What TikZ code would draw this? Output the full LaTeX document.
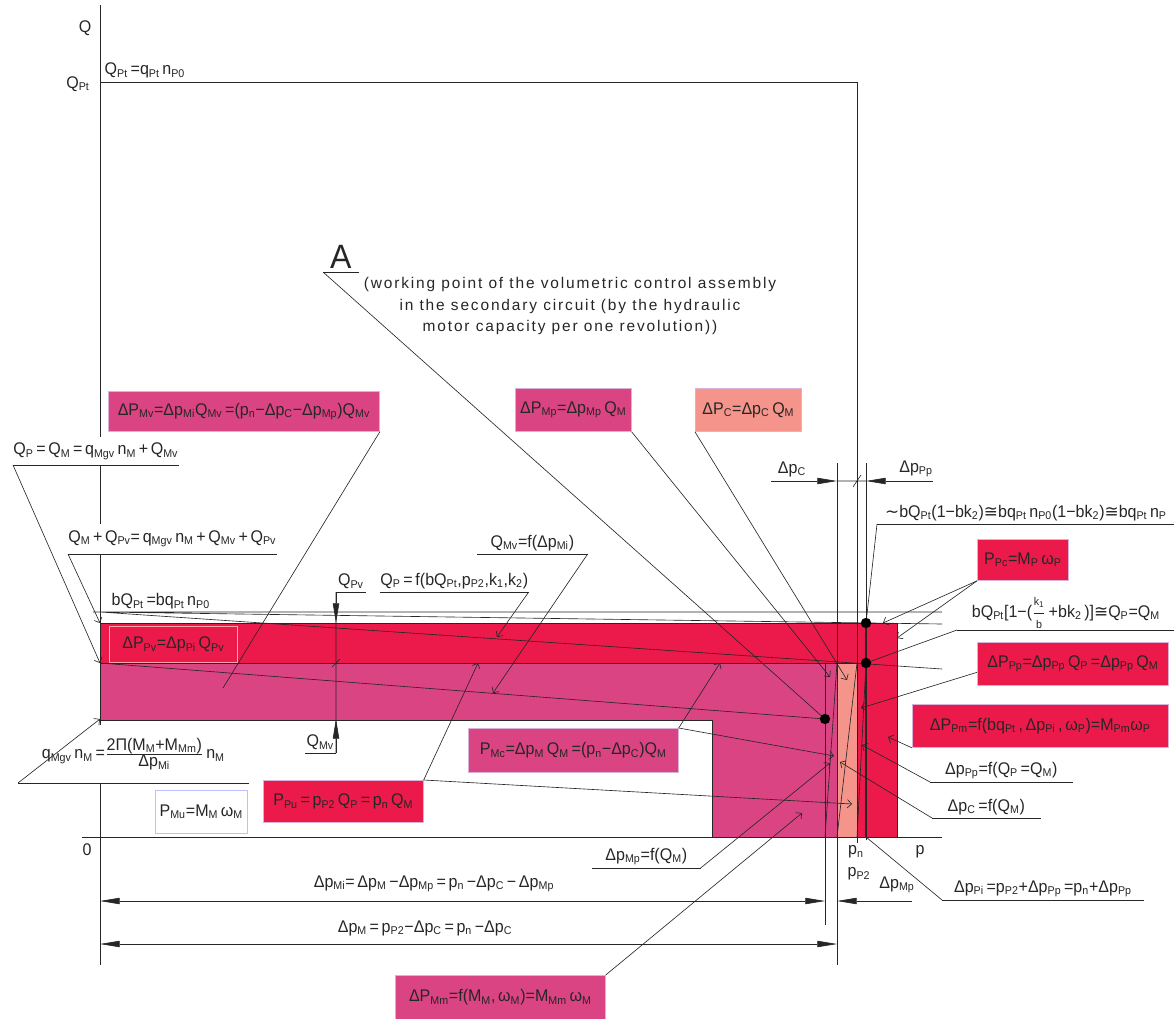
\documentclass[tikz,border=0pt]{standalone}
\usepackage{fontspec}
\setmainfont{Liberation Sans}[FakeStretch=0.95,WordSpace=0.6]
\newfontfamily\symf{DejaVu Sans}
\newfontfamily\notef{Liberation Sans}[LetterSpace=12]
\usetikzlibrary{arrows.meta}
\definecolor{redP}{RGB}{236,26,74}
\definecolor{pinkM}{RGB}{218,68,130}
\definecolor{salmonC}{RGB}{244,148,138}
\newcommand{\ix}[1]{\textsubscript{#1}}
\newcommand{\apx}{{\symf ≅}}
\newcommand{\tld}{{\symf ∼}}
\tikzset{>={Triangle[length=14pt,width=4.5pt]},
box/.style={draw=violet!30,inner sep=0pt,anchor=north west},
ulab/.style={anchor=south west,inner xsep=0pt,inner ysep=2pt},
tick/.style={-{Straight Barb[length=3pt,width=6pt]}},
dot/.style={circle,fill=black,inner sep=0pt,minimum size=0.26cm}}

\begin{document}
\begin{tikzpicture}[x=0.025cm,y=-0.025cm,color=black!85,line width=0.45pt,
  font=\fontsize{12}{14}\selectfont]
\useasboundingbox (0,0) rectangle (1174,1018);
% working points
\coordinate (A) at (825,719);
\coordinate (d1) at (866,623);
\coordinate (d2) at (866,663);
\coordinate (pPi) at (866,837);
% power areas
\fill[redP] (100,623) -- (897,623) -- (897,837) -- (857,837) -- (857,663) -- (100,663) -- cycle;
\fill[pinkM] (100,663) -- (837,663) -- (837,837) -- (712,837) -- (712,720) -- (100,720) -- cycle;
\fill[salmonC] (837,663) rectangle (857,837);
\draw (100,623) -- (897,623) -- (897,837) (100,663) -- (866,663)
  (100,720) -- (712,720) -- (712,837);
% axes
\draw (100,5) -- (100,965) (82,837) -- (942,837);
\draw (100,82) -- (857,82) -- (857,843);
\node (Qax) at (85,28) {Q};
\node (QPt) at (78,84) {Q\ix{Pt}};
\node (zero) at (87,850) {0};
\node (pax) at (920,852) {p};
\node (pn) at (856,852) {p\ix{n}};
\node (pP2) at (859,874) {p\ix{P2}};
\node[anchor=south west,inner sep=1pt] (QPtq) at (103,80) {Q\ix{Pt} =q\ix{Pt} n\ix{P0}};
\node[anchor=south west,inner sep=1pt] (bQPt) at (110,611) {bQ\ix{Pt} =bq\ix{Pt} n\ix{P0}};
% characteristics
\draw (93,612) -- (942,612) (100,612) -- (942,624) (100,612) -- (942,669) (100,663) -- (A);
\draw (837,463) -- (837,965) (825,663) -- (825,925) (866,463) -- (866,840);
\draw[line width=1.6pt] (d1) -- (d2);
\draw[line width=0.9pt] (d2) -- (pPi);
\draw (837,663) -- (825,837) (857,663) -- (837,837) (866,663) -- (857,837);
% dimensions
\draw[<->] (100,901) -- (825,901);
\draw[<->] (100,944) -- (837,944);
\draw[->] (912,901) -- (837,901);
\draw[->] (771,481) -- (837,481);
\draw[->] (933,481) -- (866,481);
\draw (837,481) -- (866,481) (853,487) -- (861,475);
\draw (336,592) -- (336,753) (332,667) -- (340,659);
\draw[->] (336,592) -- (336,623);
\draw[->] (336,753) -- (336,719);
\node (lDpC) at (792,469) {Δp\ix{C}};
\node (lDpPp) at (916,469) {Δp\ix{Pp}};
\node (lDpMp) at (897,885) {Δp\ix{Mp}};
\node (lDpMi) at (434,884) {Δp\ix{Mi}= Δp\ix{M} −Δp\ix{Mp} = p\ix{n} −Δp\ix{C} − Δp\ix{Mp}};
\node (lDpM) at (425,928) {Δp\ix{M} = p\ix{P2}−Δp\ix{C} = p\ix{n} −Δp\ix{C}};
% labels on lines
\node[ulab,fill=white,minimum width=3.93cm,minimum height=0.68cm] (lQP) at (13,465)
  {Q\ix{P} = Q\ix{M} = q\ix{Mgv} n\ix{M} + Q\ix{Mv}};
\node[ulab,fill=white,minimum width=4.98cm,minimum height=0.75cm] (lQMPv) at (68,554)
  {Q\ix{M} + Q\ix{Pv}= q\ix{Mgv} n\ix{M} + Q\ix{Mv} + Q\ix{Pv}};
\node[ulab,fill=white,minimum width=5.75cm,minimum height=1.43cm] (lqMgv) at (18,783)
  {q\ix{Mgv} n\ix{M} =$\frac{\hbox{2Π(M\ix{M}+M\ix{Mm})}}{\hbox{Δp\ix{Mi}}}$ n\ix{M}};
\node[ulab,minimum width=0.73cm] (lQPv) at (336,592) {Q\ix{Pv}};
\node[ulab,minimum width=0.75cm] (lQMv) at (305,753) {Q\ix{Mv}};
\node[ulab,minimum width=3.7cm] (lQPf) at (380,592) {Q\ix{P} = f(bQ\ix{Pt},p\ix{P2},k\ix{1},k\ix{2})};
\node[ulab,minimum width=2.75cm] (lQMvf) at (477,554) {Q\ix{Mv}=f(Δp\ix{Mi})};
\node[ulab,minimum width=2.7cm] (lDpMpf) at (592,868) {Δp\ix{Mp}=f(Q\ix{M})};
\node[ulab,minimum width=3.55cm] (lDpPpf) at (930,782) {Δp\ix{Pp}=f(Q\ix{P} =Q\ix{M})};
\node[ulab,minimum width=2.7cm] (lDpCf) at (932,818) {Δp\ix{C} =f(Q\ix{M})};
\node[ulab,minimum width=5.03cm] (lDpPi) at (942,900) {Δp\ix{Pi} =p\ix{P2}+Δp\ix{Pp} =p\ix{n}+Δp\ix{Pp}};
\node[ulab,minimum width=7.43cm] (l1bk) at (877,524)
  {\tld bQ\ix{Pt}(1−bk\ix{2})\apx bq\ix{Pt} n\ix{P0}(1−bk\ix{2})\apx bq\ix{Pt} n\ix{P}};
\node[ulab,inner ysep=0.5pt,minimum width=5.43cm] (lk1b) at (957,630)
  {bQ\ix{Pt}[1−($\displaystyle\frac{\hbox{\footnotesize k\ix{1}}}{\hbox{\footnotesize b}}$ +bk\ix{2} )]\apx Q\ix{P}=Q\ix{M}};
\node[ulab,minimum width=0.88cm,font=\fontsize{24}{26}\selectfont] (lA) at (323,272) {A};
\node[align=center,font=\notef\fontsize{11}{15.5}\selectfont] (note) at (570,306)
  {(working point of the volumetric control assembly\\
   in the secondary circuit (by the hydraulic\\
   motor capacity per one revolution))};
\draw (lQP.south west) -- (lQP.south east) (lQMPv.south west) -- (lQMPv.south east)
  (lqMgv.south west) -- (lqMgv.south east) (lQPv.south west) -- (lQPv.south east)
  (lQMv.south west) -- (lQMv.south east) (lQPf.south west) -- (lQPf.south east)
  (lQMvf.south west) -- (lQMvf.south east) (lDpMpf.south west) -- (lDpMpf.south east)
  (lDpPpf.south west) -- (lDpPpf.south east) (lDpCf.south west) -- (lDpCf.south east)
  (lDpPi.south west) -- (lDpPi.south east) (l1bk.south west) -- (l1bk.south east)
  (lk1b.south west) -- (lk1b.south east) (lA.south west) -- (lA.south east);
% power boxes
\node[box,fill=pinkM,minimum width=6.78cm,minimum height=1.0cm] (bMv) at (108,391)
  {ΔP\ix{Mv}=Δp\ix{Mi}Q\ix{Mv} =(p\ix{n}−Δp\ix{C}−Δp\ix{Mp})Q\ix{Mv}};
\node[box,fill=pinkM,minimum width=2.9cm,minimum height=1.08cm] (bMp) at (515,388) {ΔP\ix{Mp}=Δp\ix{Mp} Q\ix{M}};
\node[box,fill=salmonC,minimum width=2.65cm,minimum height=1.08cm] (bC) at (695,388) {ΔP\ix{C}=Δp\ix{C} Q\ix{M}};
\node[box,fill=redP,minimum width=2.28cm,minimum height=1.03cm] (bPc) at (977,539) {P\ix{Pc}=M\ix{P} ω\ix{P}};
\node[box,fill=redP,minimum width=4.78cm,minimum height=1.08cm] (bPp) at (977,642)
  {ΔP\ix{Pp}=Δp\ix{Pp} Q\ix{P} =Δp\ix{Pp} Q\ix{M}};
\node[box,fill=redP,minimum width=6.4cm,minimum height=1.08cm] (bPm) at (912,704)
  {ΔP\ix{Pm}=f(bq\ix{Pt} , Δp\ix{Pi} , ω\ix{P})=M\ix{Pm}ω\ix{P}};
\node[box,fill=pinkM,minimum width=5.25cm,minimum height=1.1cm] (bMc) at (468,728)
  {P\ix{Mc}=Δp\ix{M} Q\ix{M} =(p\ix{n}−Δp\ix{C})Q\ix{M}};
\node[box,fill=redP,minimum width=4.0cm,minimum height=1.05cm] (bPu) at (263,780)
  {P\ix{Pu} = p\ix{P2} Q\ix{P} = p\ix{n} Q\ix{M}};
\node[box,draw=blue!25,fill=white,minimum width=2.3cm,minimum height=1.08cm] (bMu) at (155,790)
  {P\ix{Mu}=M\ix{M} ω\ix{M}};
\node[box,draw=red!35,fill=redP,minimum width=3.2cm,minimum height=0.9cm] (bPv) at (109,626)
  {ΔP\ix{Pv}=Δp\ix{Pi} Q\ix{Pv}};
\node[box,fill=pinkM,minimum width=5.25cm,minimum height=1.1cm] (bMm) at (395,975)
  {ΔP\ix{Mm}=f(M\ix{M}, ω\ix{M})=M\ix{Mm} ω\ix{M}};
% leader ends
\coordinate (tMv) at (223,688);
\coordinate (tQP) at (100,663);
\coordinate (tQMPv) at (100,623);
\coordinate (tqMgv) at (100,719);
\coordinate (tQPf) at (497,637);
\coordinate (tQMvf) at (493,693);
\coordinate (tMp) at (830,677);
\coordinate (tC) at (847,680);
\coordinate (tPc1) at (883,623);
\coordinate (tPc2) at (897,638);
\coordinate (tPp) at (861,708);
\coordinate (tPm) at (888,737);
\coordinate (tDpPp) at (862,745);
\coordinate (tDpC) at (840,762);
\coordinate (tMc1) at (834,756);
\coordinate (tMc2) at (720,663);
\coordinate (tPu1) at (852,804);
\coordinate (tPu2) at (478,663);
\coordinate (tDpMp) at (830,763);
\coordinate (tMm) at (802,813);
\draw (bMv.south east) -- (tMv) (lA.south west) -- (A)
  (l1bk.south west) -- (d1) (lk1b.south west) -- (d2) (lDpPi.south west) -- (pPi);
\draw
(lQP.south west) edge[tick] (tQP)
(lQMPv.south west) edge[tick] (tQMPv)
(lqMgv.south west) edge[tick] (tqMgv)
(lQPf.south east) edge[tick] (tQPf)
(lQMvf.south east) edge[tick] (tQMvf)
(bMp.south east) edge[tick] (tMp)
(bC.south west) edge[tick] (tC)
(bPc.south west) edge[tick] (tPc1) edge[tick] (tPc2)
(bPp.185) edge[tick] (tPp)
(bPm.south west) edge[tick] (tPm)
(lDpPpf.south west) edge[tick] (tDpPp)
(lDpCf.south west) edge[tick] (tDpC)
(bMc.north east) edge[tick] (tMc1) edge[tick] (tMc2)
(bPu.north east) edge[tick] (tPu1) edge[tick] (tPu2)
(lDpMpf.south east) edge[tick] (tDpMp)
(bMm.north east) edge[tick] (tMm)
;
\node[dot] (dA) at (A) {};
\node[dot] (dd1) at (d1) {};
\node[dot] (dd2) at (d2) {};
\end{tikzpicture}
\end{document}
